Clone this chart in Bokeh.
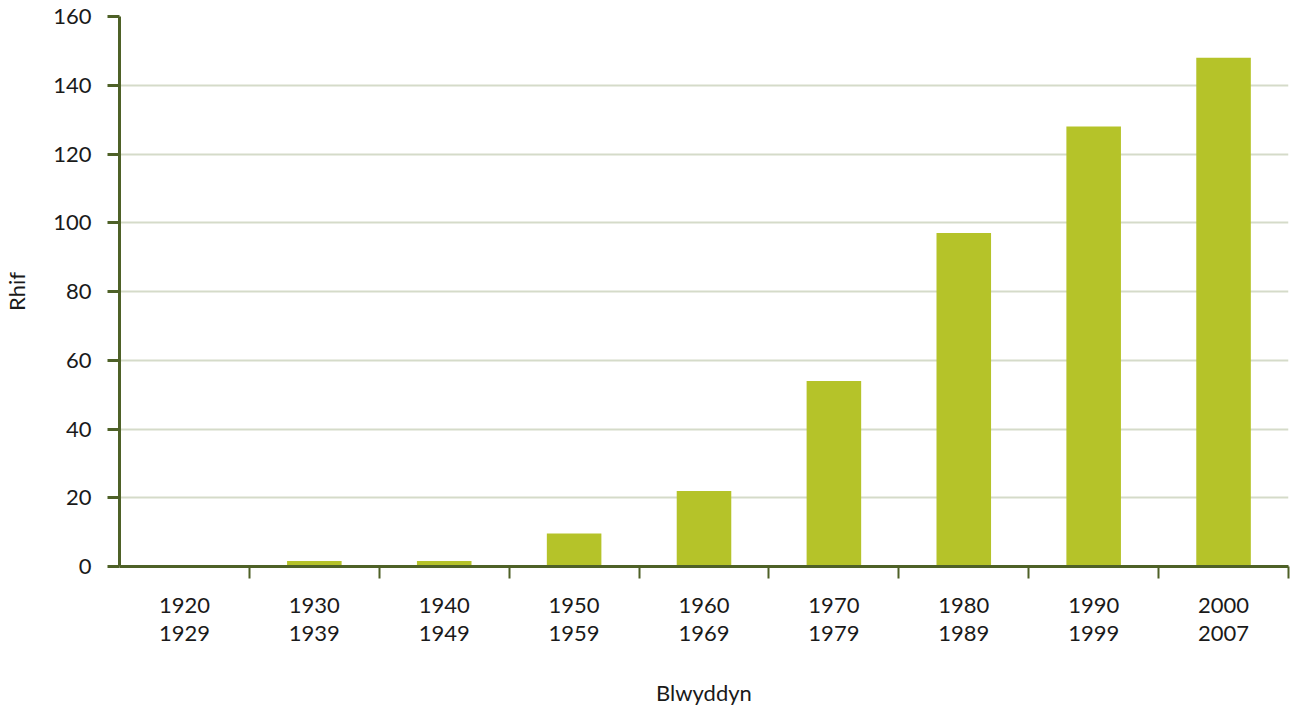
import numpy as np
from bokeh.plotting import figure
from bokeh.models import FixedTicker, Range1d, ColumnDataSource
from bokeh.embed import file_html
from bokeh.resources import INLINE

starts = ["1920", "1930", "1940", "1950", "1960", "1970", "1980", "1990", "2000"]
ends = ["1929", "1939", "1949", "1959", "1969", "1979", "1989", "1999", "2007"]
counts = [0, 1.6, 1.6, 9.6, 22, 54, 97, 128, 148]
y_ticks = [0, 20, 40, 60, 80, 100, 120, 140, 160]

n = len(starts)
centers = list(np.arange(n) + 0.5)
bounds = list(range(1, n + 1))

src = ColumnDataSource(dict(x=centers, top=counts))

FONT = "Lato"
AX = "#4e6127"
TXT = "#1a1a1a"

p = figure(frame_width=1169, frame_height=550, output_backend="svg", toolbar_location=None,
           x_range=Range1d(0, n), y_range=Range1d(0, 160),
           min_border_left=113, min_border_top=16, min_border_right=2,
           min_border_bottom=5)
p.outline_line_color = None
p.xgrid.visible = False
p.ygrid.grid_line_color = "#d5dbc9"
p.ygrid.grid_line_width = 2

p.vbar(x="x", top="top", width=0.42, bottom=0, source=src,
       fill_color="#b5c329", line_color=None)

xa = p.xaxis[0]
xa.ticker = FixedTicker(ticks=centers, minor_ticks=bounds)
xa.major_label_overrides = {c: f"{s}\n{e}" for c, s, e in zip(centers, starts, ends)}
xa.major_tick_out = 0
xa.major_tick_in = 0
xa.minor_tick_out = 12
xa.minor_tick_in = 0
xa.minor_tick_line_color = AX
xa.minor_tick_line_width = 2
xa.axis_line_color = AX
xa.axis_line_width = 3
xa.major_label_standoff = 12
xa.major_label_text_font = FONT
xa.major_label_text_font_size = "22px"
xa.major_label_text_line_height = 1.06
xa.major_label_text_color = TXT
xa.axis_label = "Blwyddyn"
xa.axis_label_text_font = FONT
xa.axis_label_text_font_size = "22px"
xa.axis_label_text_font_style = "normal"
xa.axis_label_text_color = TXT
xa.axis_label_standoff = 30

ya = p.yaxis[0]
ya.ticker = FixedTicker(ticks=y_ticks)
ya.minor_tick_line_color = None
ya.major_tick_out = 12
ya.major_tick_in = 0
ya.major_tick_line_color = AX
ya.major_tick_line_width = 3
ya.axis_line_color = AX
ya.axis_line_width = 3
ya.major_label_standoff = 16
ya.major_label_text_font = FONT
ya.major_label_text_font_size = "22px"
ya.major_label_text_color = TXT
ya.axis_label = "Rhif"
ya.axis_label_text_font = FONT
ya.axis_label_text_font_size = "22px"
ya.axis_label_text_font_style = "normal"
ya.axis_label_text_color = TXT
ya.axis_label_standoff = 20

open("out.html", "w").write(file_html(p, INLINE))
